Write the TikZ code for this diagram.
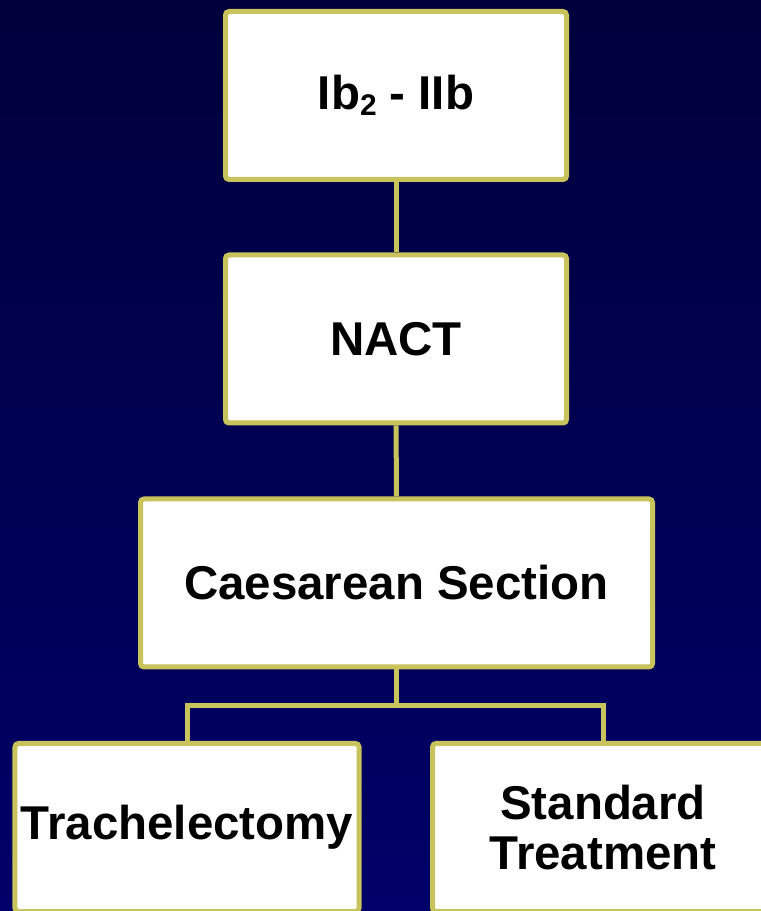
\documentclass[tikz,border=0pt]{standalone}
\usepackage{fontspec}
\setmainfont{Liberation Sans}
\usetikzlibrary{positioning}
\definecolor{navytop}{HTML}{00003C}
\definecolor{navybot}{HTML}{000068}
\definecolor{boxline}{HTML}{C8C35A}
\begin{document}
\begin{tikzpicture}[
	box/.style={draw=boxline, line width=1mm, fill=white, rounded corners=2pt,
		minimum width=6.82cm, minimum height=3.36cm, align=center,
		font=\fontsize{27}{28}\selectfont\bfseries},
	link/.style={draw=boxline, line width=1mm}]
			%%%	Sfondo
			\useasboundingbox (0,0) rectangle (15.22,18.22);
			\clip (0,0) rectangle (15.22,18.22);
			\shade[top color=navytop, bottom color=navybot] (0,0) rectangle (15.22,18.22);
			%%%	Caselle
			\node[box] (stage) at (7.92,16.31) {Ib\raisebox{-0.25ex}{\fontsize{17}{17}\selectfont 2} - IIb};
			\node[box] (nact) at (7.92,11.44) {NACT};
			\node[box, minimum width=10.24cm] (cesarea) at (7.93,6.56) {Caesarean Section};
			\node[box, minimum width=6.86cm] (trach) at (3.74,1.67) {Trachelectomy};
			\node[box, minimum width=6.82cm] (std) at (12.06,1.67) {Standard\\Treatment};
			%%%	Collegamenti
			\coordinate (split) at (7.93,4.1);
			\draw[link] (stage) -- (nact);
			\draw[link] (nact) -- (cesarea);
			\draw[link] (cesarea) -- (split);
			\draw[link] (trach.north) |- (split) -| (std.north);
		\end{tikzpicture}
\end{document}
